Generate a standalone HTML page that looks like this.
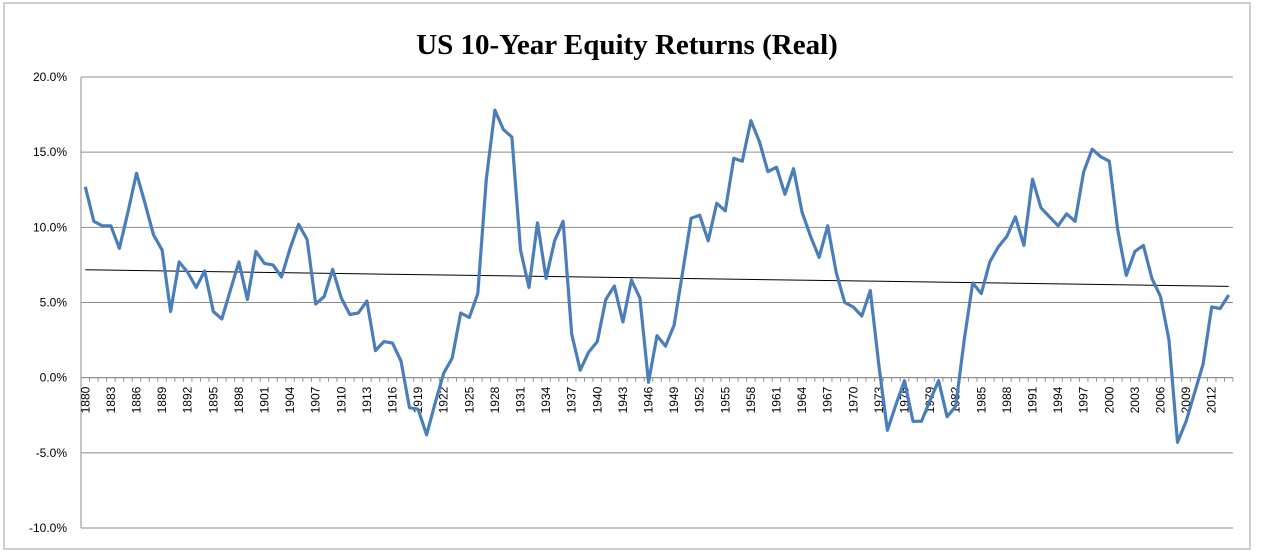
<!DOCTYPE html>
<html><head><meta charset="utf-8"><style>
html,body{margin:0;padding:0;background:#fff;}
svg{display:block;font-family:"Liberation Sans",sans-serif;}
</style></head><body>
<svg id="chart" width="1262" height="559">
<rect x="4" y="3" width="1246" height="546" fill="#fff" stroke="#bdbdbd" stroke-width="1.5"/>
<text x="627" y="54" text-anchor="middle" font-family="Liberation Serif, serif" font-weight="bold" font-size="29" fill="#000">US 10-Year Equity Returns (Real)</text>
<g id="grid"></g>
<g id="yaxis"></g>
<g id="xaxis"></g>
<g id="series"></g>
</svg>
<script>
const startYear = 1880;
const returns = [12.7,10.4,10.1,10.1,8.6,11.0,13.6,11.6,9.5,8.5,
4.4,7.7,7.0,6.0,7.1,4.4,3.9,5.8,7.7,5.2,
8.4,7.6,7.5,6.7,8.6,10.2,9.2,4.9,5.4,7.2,
5.3,4.2,4.3,5.1,1.8,2.4,2.3,1.1,-2.0,-2.1,
-3.8,-1.7,0.3,1.3,4.3,4.0,5.6,13.2,17.8,16.5,
16.0,8.5,6.0,10.3,6.6,9.1,10.4,2.9,0.5,1.7,
2.4,5.2,6.1,3.7,6.5,5.3,-0.3,2.8,2.1,3.5,
7.0,10.6,10.8,9.1,11.6,11.1,14.6,14.4,17.1,15.7,
13.7,14.0,12.2,13.9,11.0,9.4,8.0,10.1,7.0,5.0,
4.7,4.1,5.8,0.8,-3.5,-1.8,-0.2,-2.9,-2.9,-1.5,
-0.2,-2.6,-1.9,2.5,6.3,5.6,7.7,8.7,9.4,10.7,
8.8,13.2,11.3,10.7,10.1,10.9,10.4,13.7,15.2,14.7,
14.4,9.8,6.8,8.4,8.8,6.6,5.4,2.5,-4.3,-2.9,
-1.0,0.9,4.7,4.6,5.5];
const yTicks = [20,15,10,5,0,-5,-10];
const yTickLabels = ["20.0%","15.0%","10.0%","5.0%","0.0%","-5.0%","-10.0%"];
const labelEvery = 3;

const NS="http://www.w3.org/2000/svg";
const L=81,R=1233,T=77,B=528,yMax=20,yMin=-10;
const n=returns.length, step=(R-L)/n;
const X=i=>L+step*(i+0.5);
const Y=v=>T+(yMax-v)/(yMax-yMin)*(B-T);
function mk(tag,attrs,parent){const e=document.createElementNS(NS,tag);for(const k in attrs)e.setAttribute(k,attrs[k]);parent.appendChild(e);return e;}
const grid=document.getElementById('grid'),ya=document.getElementById('yaxis'),xa=document.getElementById('xaxis'),sg=document.getElementById('series');
yTicks.forEach((t,i)=>{
  const g=mk('line',{x1:L,x2:R,y1:Y(t),y2:Y(t),stroke:'#8c8c8c','stroke-width':1},grid);
  
  
  const tx=mk('text',{x:L-14,y:Y(t)+4,'text-anchor':'end','font-size':12,fill:'#000'},ya);
  tx.textContent=yTickLabels[i];
  
  
});
const ax=mk('line',{x1:L,x2:L,y1:T,y2:B,stroke:'#8c8c8c','stroke-width':1},ya);


const y0=Y(0);
const xl=mk('line',{x1:L,x2:R,y1:y0,y2:y0,stroke:'#8c8c8c','stroke-width':1},xa);


for(let i=0;i<=n;i++){
  const tk=mk('line',{x1:L+step*i,x2:L+step*i,y1:y0,y2:y0+4,stroke:'#8c8c8c','stroke-width':1},xa);
  
  
}
for(let i=0;i<n;i+=labelEvery){
  const x=X(i)+4,y=y0+9;
  const t=mk('text',{x:x,y:y,'text-anchor':'end','font-size':12,fill:'#000',transform:`rotate(-90 ${x} ${y})`},xa);
  t.textContent=String(startYear+i);
  
  
}
// trend line (least squares of series)
let sx=0,sy=0,sxy=0,sxx=0;
returns.forEach((v,i)=>{sx+=i;sy+=v;sxy+=i*v;sxx+=i*i;});
const slope=(n*sxy-sx*sy)/(n*sxx-sx*sx),icp=(sy-slope*sx)/n;
const tr=mk('line',{x1:X(0),y1:Y(icp),x2:X(n-1),y2:Y(icp+slope*(n-1)),stroke:'#000','stroke-width':1},sg);


const pts=returns.map((v,i)=>X(i).toFixed(1)+','+Y(v).toFixed(1)).join(' ');
const pl=mk('polyline',{points:pts,fill:'none',stroke:'#4a7ebb','stroke-width':3.2,'stroke-linejoin':'round'},sg);


</script>
</body></html>
